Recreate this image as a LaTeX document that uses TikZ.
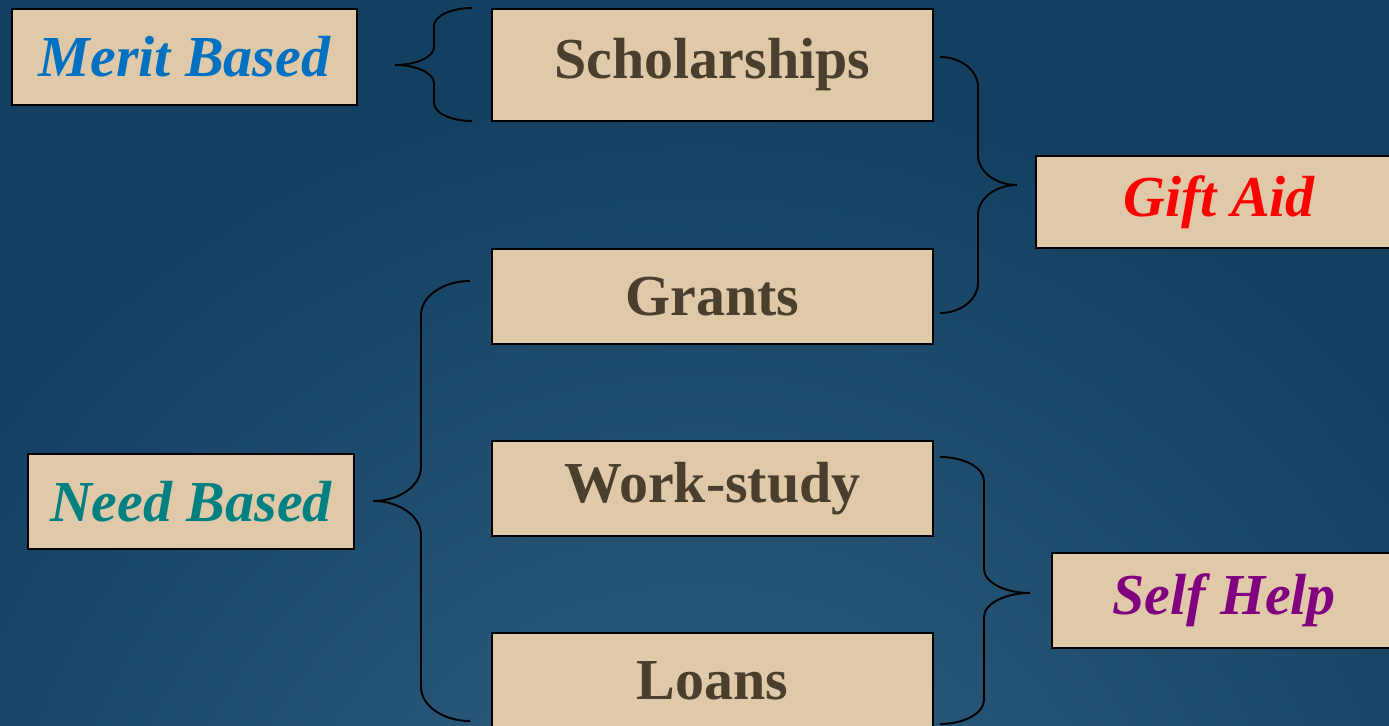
\documentclass[tikz,border=0pt]{standalone}
\usepackage{fontspec}
\setmainfont{Liberation Serif}
\usetikzlibrary{positioning}
\definecolor{aidtan}{RGB}{223,201,168}
\definecolor{aidbrown}{RGB}{74,62,44}
\definecolor{aidblue}{RGB}{0,112,192}
\definecolor{aidteal}{RGB}{0,128,128}
\definecolor{aidred}{RGB}{255,0,0}
\definecolor{aidpurple}{RGB}{128,0,128}
\definecolor{bgdark}{RGB}{19,64,96}
\definecolor{bglight}{RGB}{52,99,132}
% curly brace: end x, top y, bottom y, spine x, tip x, tip y, curl
\newcommand\curlybrace[7]{%
  \draw[curly] (#1,#2) .. controls ({#4+0.45*(#1-#4)},#2) and (#4,{#2+0.45*#7}) .. (#4,{#2+#7})
    -- (#4,{#6-#7}) .. controls (#4,{#6-0.45*#7}) and ({#5+0.55*(#4-#5)},#6) .. (#5,#6)
    .. controls ({#5+0.55*(#4-#5)},#6) and (#4,{#6+0.45*#7}) .. (#4,{#6+#7})
    -- (#4,{#3-#7}) .. controls (#4,{#3-0.45*#7}) and ({#4+0.45*(#1-#4)},#3) .. (#1,#3);}

\begin{document}
\begin{tikzpicture}[x=0.02cm,y=-0.02cm,
  every node/.style={font=\fontsize{33}{38}\selectfont\bfseries},
  aidbox/.style={draw=black,line width=1.1pt,fill=aidtan,inner sep=0pt,
                 text=aidbrown,minimum width=8.82cm,minimum height=1.9cm},
  tagbox/.style={aidbox,font=\fontsize{33}{38}\selectfont\bfseries\itshape},
  curly/.style={draw=black,line width=1.1pt}]
  %% background
  \useasboundingbox (0,0) rectangle (1389,726);
  \clip (0,0) rectangle (1389,726);
  \fill[bgdark] (0,0) rectangle (1389,726);
  \shade[inner color=bglight,outer color=bgdark] (700,980) circle (900);

  %% kinds of aid
  \node[aidbox,minimum height=2.24cm] (scholar) at (712.5,65) {Scholarships};
  \node[aidbox] (grants) at (712.5,296.5) {Grants};
  \node[aidbox] (work)   at (712.5,488.5) {Work-study};
  \node[aidbox,minimum height=1.92cm] (loans) at (712.5,681) {Loans};

  %% groupings
  \node[tagbox,text=aidblue,minimum width=6.9cm,minimum height=1.92cm]
        (merit) at (184.5,57) {Merit Based};
  \node[tagbox,text=aidteal,minimum width=6.52cm] (need) at (191,501.5) {Need Based};
  \node[tagbox,text=aidred,minimum width=7.32cm,minimum height=1.84cm]
        (gift) at (1219,202) {Gift Aid};
  \node[tagbox,text=aidpurple,minimum width=6.88cm] (self) at (1224,600.5) {Self Help};

  %% braces
  \curlybrace{472}{8}{121}{434}{395}{65}{18}
  \curlybrace{940}{57}{313}{978}{1017}{185}{30}
  \curlybrace{470}{281}{721}{421}{373}{501}{34}
  \curlybrace{940}{457}{724}{984}{1030}{593}{24}
\end{tikzpicture}
\end{document}
